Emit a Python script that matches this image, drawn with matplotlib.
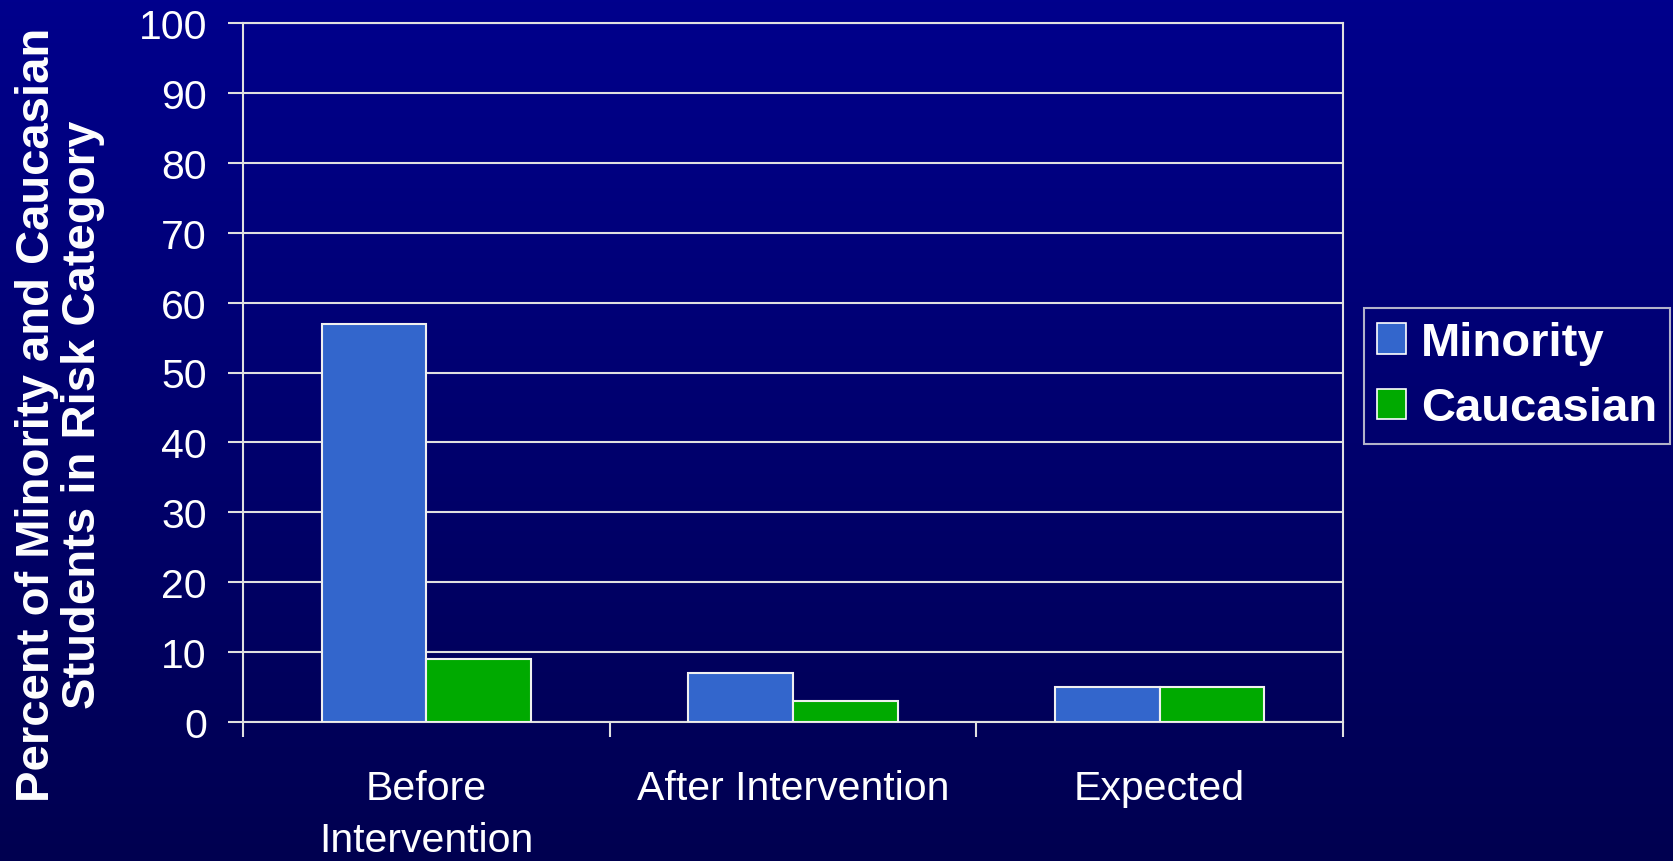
import numpy as np
import matplotlib
matplotlib.use("Agg")
import matplotlib.pyplot as plt
from matplotlib.patches import Patch

# Data
categories = ["Before\nIntervention", "After Intervention", "Expected"]
minority = [57, 7, 5]
caucasian = [9, 3, 5]
series_names = ["Minority", "Caucasian"]
y_ticks = [0, 10, 20, 30, 40, 50, 60, 70, 80, 90, 100]

plt.rcParams["font.family"] = ["Liberation Sans", "DejaVu Sans"]

W, H, DPI = 1674, 862, 100
fig = plt.figure(figsize=(W / DPI, H / DPI), dpi=DPI)

# Vertical gradient background
bg = fig.add_axes([0, 0, 1, 1], zorder=-10)
top = np.array([0, 0, 140]) / 255
bot = np.array([0, 0, 80]) / 255
t = np.linspace(0, 1, 256)[:, None]
grad = top[None, :] * (1 - t) + bot[None, :] * t
bg.imshow(grad[:, None, :], aspect="auto", extent=[0, 1, 0, 1])
bg.set_axis_off()

ax = fig.add_axes([243 / W, 1 - 723 / H, (1343 - 243) / W, (723 - 24) / H])
ax.set_facecolor("none")

x = np.arange(len(categories))
w = 1 / 3.5
edge = "#f0f0f0"
ax.bar(x - w / 2, minority, w, color="#3366CC", edgecolor=edge, linewidth=1.5, zorder=3)
ax.bar(x + w / 2, caucasian, w, color="#00AA00", edgecolor=edge, linewidth=1.5, zorder=3)

ax.set_xlim(-0.5, len(categories) - 0.5)
ax.set_ylim(0, 100)
ax.set_yticks(y_ticks)
ax.yaxis.grid(True, color="#e0e0e0", linewidth=1.5, zorder=1)
ax.set_axisbelow(True)

for s in ax.spines.values():
    s.set_color("#e0e0e0")
    s.set_linewidth(1.5)

ax.tick_params(axis="y", colors="white", labelsize=29.5, length=11, width=1.5,
               pad=15, color="#e0e0e0")
ax.set_xticks(np.arange(len(categories) + 1) - 0.5)
ax.set_xticklabels([])
ax.tick_params(axis="x", which="major", length=11, width=1.5, color="#e0e0e0")
ax.set_xticks(x, minor=True)
ax.set_xticklabels(categories, minor=True)
ax.tick_params(axis="x", which="minor", length=0, labelsize=29.5, labelcolor="white", pad=34)
for lbl in ax.get_xticklabels(minor=True):
    lbl.set_linespacing(1.45)

fig.text(15 / W, 1 - 415 / H,
         "Percent of Minority and Caucasian\nStudents in Risk Category",
         rotation=90, ha="left", va="center", multialignment="center",
         color="white", fontsize=34, fontweight="bold", linespacing=1.05)

handles = [Patch(facecolor="#3366CC", edgecolor="white", linewidth=1.2),
           Patch(facecolor="#00AA00", edgecolor="white", linewidth=1.2)]
leg = fig.legend(handles, series_names, loc="upper left",
                 bbox_to_anchor=(1364 / W, 1 - 309 / H),
                 frameon=True, fancybox=False,
                 prop={"weight": "bold", "size": 34},
                 handlelength=0.62, handleheight=0.62, handletextpad=0.3,
                 labelspacing=0.45, borderpad=0.28, borderaxespad=0)
leg.get_frame().set_facecolor("none")
leg.get_frame().set_edgecolor("#e0e0e0")
leg.get_frame().set_linewidth(1.5)
for txt in leg.get_texts():
    txt.set_color("white")

fig.savefig("out.png", dpi=DPI)
